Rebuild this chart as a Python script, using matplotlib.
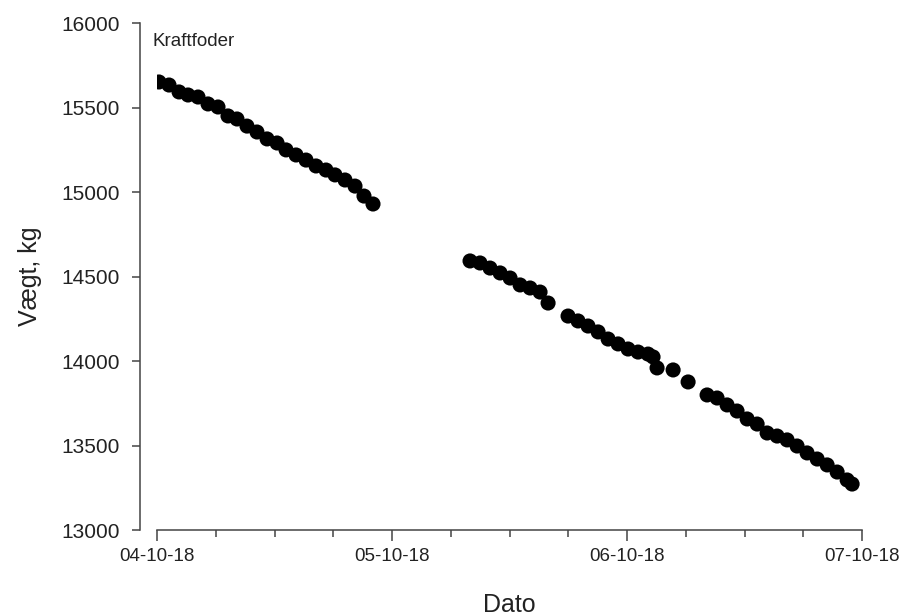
import pandas as pd
import matplotlib
matplotlib.use("Agg")
import matplotlib.pyplot as plt
import matplotlib.dates as mdates

plt.rcParams['font.family'] = ['Liberation Sans', 'DejaVu Sans']

start = pd.Timestamp("2018-10-04 00:00")

# hours after 04-10-18 00:00 and weight (kg)
hours_1 = [0.20, 1.23, 2.25, 3.17, 4.19, 5.21, 6.23, 7.25, 8.17, 9.19, 10.21, 11.24,
           12.26, 13.18, 14.20, 15.22, 16.24, 17.26, 18.18, 19.20, 20.22, 21.14, 22.06]
weight_1 = [15651, 15633, 15592, 15574, 15562, 15521, 15503, 15450, 15432, 15390, 15355, 15314,
            15290, 15249, 15219, 15189, 15154, 15130, 15101, 15071, 15035, 14976, 14929]

hours_2 = [31.97, 32.99, 34.01, 35.04, 36.06, 37.08, 38.10, 39.12, 39.94,
           41.98, 43.00, 44.02, 45.05, 46.07, 47.09, 48.11, 49.13, 50.15, 50.66,
           51.07, 52.71, 54.24,
           56.18, 57.20, 58.22, 59.24, 60.27, 61.29, 62.31, 63.33, 64.35, 65.37,
           66.39, 67.42, 68.44, 69.46, 70.48, 70.99]
weight_2 = [14592, 14580, 14550, 14521, 14491, 14450, 14432, 14408, 14343,
            14266, 14237, 14207, 14172, 14130, 14101, 14071, 14053, 14041, 14024,
            13959, 13947, 13876,
            13799, 13781, 13740, 13704, 13657, 13627, 13574, 13556, 13533, 13497,
            13456, 13420, 13385, 13343, 13296, 13272]

hours = hours_1 + hours_2
weight = weight_1 + weight_2
times = [start + pd.Timedelta(hours=h) for h in hours]

fig = plt.figure(figsize=(9, 6.15), dpi=100)
ax = fig.add_axes([157 / 900, 85 / 615, 705 / 900, 507 / 615])

ax.scatter(times, weight, s=118, color="black", edgecolors="none", zorder=3)

ax.set_xlim(start, start + pd.Timedelta(days=3))
ax.set_ylim(13000, 16000)

ax.xaxis.set_major_locator(mdates.DayLocator())
ax.xaxis.set_major_formatter(mdates.DateFormatter("%d-%m-%y"))
ax.xaxis.set_minor_locator(mdates.HourLocator(byhour=[6, 12, 18]))
ax.set_yticks([13000, 13500, 14000, 14500, 15000, 15500, 16000])

for s in ["top", "right"]:
    ax.spines[s].set_visible(False)
ax.spines["left"].set_position(("outward", 12))
for s in ["left", "bottom"]:
    ax.spines[s].set_color("#444444")
    ax.spines[s].set_linewidth(1.1)

ax.tick_params(axis="y", which="major", length=6, width=1.1, color="#444444",
               labelsize=15, labelcolor="#222222", pad=9)
ax.tick_params(axis="x", which="major", length=8, width=1.1, color="#444444",
               labelsize=13.5, labelcolor="#222222", pad=5)
ax.tick_params(axis="x", which="minor", length=5, width=1.1, color="#444444")

ax.set_xlabel("Dato", fontsize=18, color="#222222", labelpad=20)
ax.set_ylabel("Vægt, kg", fontsize=18, color="#222222", labelpad=14)

ax.annotate("Kraftfoder", xy=(0, 1), xycoords="axes fraction", xytext=(-4, -18),
            textcoords="offset pixels", fontsize=13.5, color="#222222", va="center")

fig.savefig("out.png", dpi=100)
